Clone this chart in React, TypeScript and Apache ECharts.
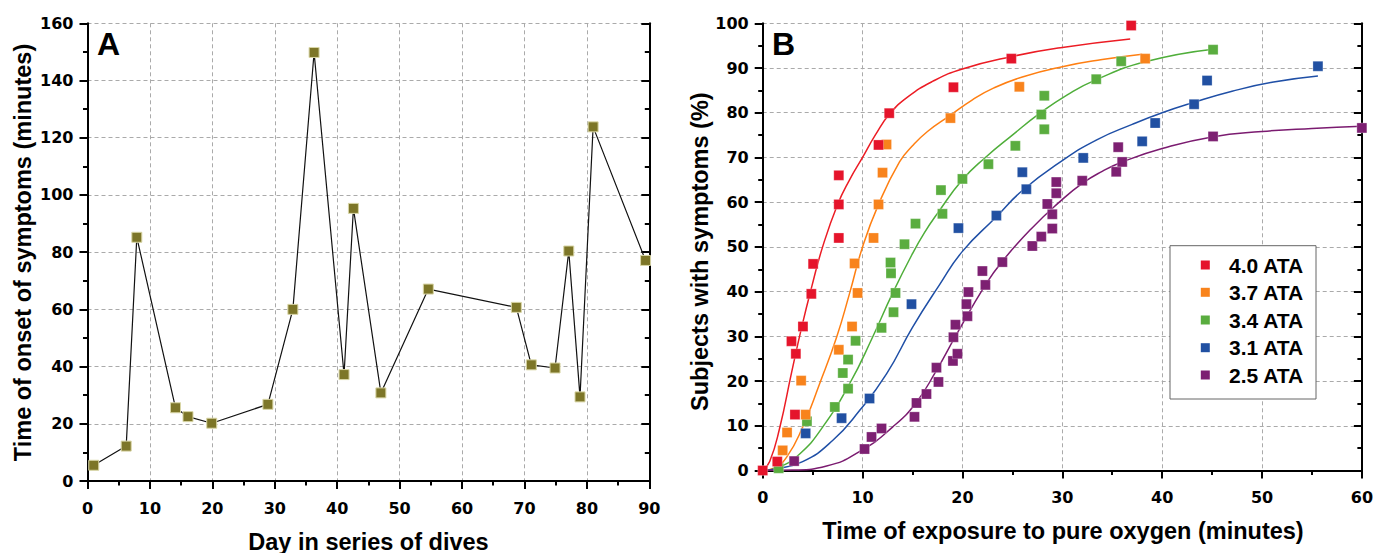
import React, { useEffect, useRef } from 'react';
import * as echarts from 'echarts';

// ---------- Panel A data ----------
const dayA = [1, 6.2, 7.9, 14.1, 16.1, 19.9, 28.9, 32.9, 36.3, 41.1, 42.6, 47.0, 54.6, 68.7, 71.1, 74.9, 77.1, 78.9, 81, 89.4];
const onsetA = [5.5, 12.2, 85.2, 25.6, 22.5, 20.2, 26.8, 60, 149.8, 37.2, 95.3, 30.8, 67.1, 60.7, 40.6, 39.5, 80.4, 29.4, 123.8, 77.1];

// ---------- Panel B data (points) ----------
const seriesNames = ['4.0 ATA', '3.7 ATA', '3.4 ATA', '3.1 ATA', '2.5 ATA'];
const colors = ['#e5142b', '#f8831c', '#5aad3f', '#2150a2', '#7d2072'];
const curveColors = ['#ec1c24', '#ff7f12', '#4fae3a', '#1f4fa6', '#7b1b70'];

const ata40X = [0, 1.46, 3.23, 2.88, 3.32, 4.03, 4.87, 5.05, 7.62, 7.62, 7.62, 11.6, 12.67, 19.1, 24.9, 36.9];
const ata40Y = [0, 2, 12.5, 28.9, 26.1, 32.2, 39.5, 46.2, 52, 59.5, 66, 72.8, 79.9, 85.7, 92.1, 99.5];

const ata37X = [2.0, 2.44, 4.3, 3.85, 7.62, 8.95, 9.5, 9.2, 11.1, 11.6, 12.0, 12.4, 18.8, 25.7, 38.3];
const ata37Y = [4.5, 8.5, 12.5, 20.1, 27, 32.2, 39.7, 46.3, 52, 59.5, 66.6, 72.9, 78.8, 85.8, 92.1];

const ata34X = [1.6, 4.43, 7.22, 8.02, 8.55, 8.55, 9.3, 11.9, 13.1, 13.3, 12.85, 12.8, 14.2, 15.3, 18, 17.85, 20, 22.6, 25.3, 27.9, 28.2, 28.2, 33.4, 35.9, 45.1];
const ata34Y = [0.5, 11, 14.2, 21.8, 18.3, 24.8, 29, 31.9, 35.4, 39.7, 44.1, 46.5, 50.6, 55.2, 57.4, 62.7, 65.2, 68.5, 72.6, 79.6, 76.3, 83.8, 87.5, 91.5, 94.1];

const ata31X = [4.3, 7.9, 10.7, 14.9, 19.6, 23.4, 26.4, 26.0, 32.1, 38.0, 39.3, 43.2, 44.5, 55.6];
const ata31Y = [8.3, 11.7, 16.1, 37.2, 54.2, 57, 62.9, 66.7, 69.9, 73.6, 77.7, 81.9, 87.2, 90.4];

const ata25X = [3.15, 10.2, 10.9, 11.9, 15.2, 15.4, 16.4, 17.6, 17.4, 19.05, 19.5, 19.1, 19.3, 20.5, 20.4, 20.6, 22.3, 22.0, 24.0, 27.0, 27.9, 29.0, 29.0, 28.5, 29.4, 29.4, 32.0, 35.4, 36.0, 35.6, 45.1, 60];
const ata25Y = [2.1, 4.8, 7.5, 9.4, 12, 15.1, 17.1, 19.8, 23, 24.5, 26.1, 29.8, 32.6, 34.5, 37.2, 39.9, 41.5, 44.6, 46.6, 50.2, 52.3, 54.1, 57.3, 59.6, 62, 64.5, 64.8, 66.8, 69, 72.3, 74.7, 76.6];

// ---------- Panel B fitted curves ----------
const fit40X = [0, 0.7, 1.7, 2.9, 3.9, 4.9, 6, 7.5, 8.7, 10, 11.3, 12.7, 14.5, 17, 20, 25, 30, 36.8];
const fit40Y = [0, 2, 9.5, 22, 32, 41, 50, 59.5, 65, 70, 75.1, 79.7, 83.5, 87, 89.8, 92.6, 94.6, 96.5];

const fit37X = [0, 1.1, 2.4, 4, 5.7, 7.4, 8.7, 10, 11.6, 13.7, 15, 16.5, 18.7, 21, 23, 26, 30, 34, 38];
const fit37Y = [0, 0.5, 3, 9.7, 19.4, 29.8, 39.6, 50, 59.5, 69, 72.6, 75.8, 79.3, 82.9, 85.4, 88, 90.3, 91.9, 93.1];

const fit34X = [0, 1.6, 3.7, 6, 8.7, 11, 13, 15, 16.2, 17.5, 20, 22.3, 25, 27.7, 30.5, 33.3, 38.3, 45.1];
const fit34Y = [0, 0.7, 3.7, 9.7, 19.4, 29.8, 39.6, 48.5, 53.2, 57.5, 65, 70, 75, 79.8, 84, 87.3, 91.4, 94.2];

const fit31X = [0, 1.1, 4, 7, 9.7, 12.4, 15, 17.7, 20, 23.3, 26, 30, 33.5, 37, 40, 43, 47, 51, 55.6];
const fit31Y = [0, 0.3, 2, 6.7, 13.4, 21.6, 32, 41.5, 49, 56.5, 62.6, 69.3, 74, 77.4, 80, 82.2, 84.8, 86.8, 88.2];

const fit25X = [0, 3, 6.4, 9.9, 13, 15.3, 17.3, 19.3, 22.3, 24, 27, 29.7, 32, 34, 36, 40, 45, 50, 55, 60];
const fit25Y = [0, 0.1, 1, 4.5, 9.7, 15, 22, 30, 41.5, 46.8, 54.3, 60, 64.2, 66.9, 69, 72, 74.6, 75.8, 76.5, 77];

const pointX = [ata40X, ata37X, ata34X, ata31X, ata25X];
const pointY = [ata40Y, ata37Y, ata34Y, ata31Y, ata25Y];
const fitX = [fit40X, fit37X, fit34X, fit31X, fit25X];
const fitY = [fit40Y, fit37Y, fit34Y, fit31Y, fit25Y];

const zip = (xs: number[], ys: number[]) => xs.map((x, i) => [x, ys[i]]);

const tickFont = { fontFamily: 'DejaVu Sans', fontWeight: 'bold' as const, fontSize: 16, color: '#000' };
const titleFont = 'bold 23.5px "Liberation Sans", Arial, sans-serif';
const black = { color: '#000', width: 2 };

function xAxis(gridIndex: number, max: number) {
  return {
    type: 'value', gridIndex, min: 0, max, interval: 10,
    axisLine: { show: true, onZero: false, lineStyle: black },
    axisTick: { show: true, length: 8, lineStyle: black },
    minorTick: { show: true, splitNumber: 2, length: 4.5, lineStyle: black },
    splitLine: { show: true, lineStyle: { color: '#aaaaaa', width: 1, type: [4, 3] } },
    minorSplitLine: { show: false },
    axisLabel: { ...tickFont, margin: 19 },
  };
}
function yAxisLeft(gridIndex: number, max: number, interval: number) {
  return {
    type: 'value', gridIndex, min: 0, max, interval,
    position: 'left',
    axisLine: { show: true, onZero: false, lineStyle: black },
    axisTick: { show: true, length: 8, lineStyle: black },
    minorTick: { show: true, splitNumber: 2, length: 4.5, lineStyle: black },
    splitLine: { show: true, lineStyle: { color: '#aaaaaa', width: 1, type: [4, 3] } },
    axisLabel: { ...tickFont, margin: 14 },
  };
}
function yAxisRight(gridIndex: number, max: number, interval: number) {
  return {
    type: 'value', gridIndex, min: 0, max, interval,
    position: 'right',
    axisLine: { show: true, onZero: false, lineStyle: black },
    axisTick: { show: true, inside: true, length: 8, lineStyle: black },
    minorTick: { show: true, splitNumber: 2, length: 4.5, lineStyle: black },
    splitLine: { show: false },
    axisLabel: { show: false },
  };
}

// Legend layout (drawn as graphic)
const legendRowY = [265, 292.3, 320, 347.7, 375];
const legendItems = seriesNames.flatMap((n, i) => [
  { type: 'rect', shape: { x: 1200.8, y: legendRowY[i] - 4.5, width: 9, height: 9 }, style: { fill: colors[i] }, z: 20 },
  { type: 'text', x: 1229, y: legendRowY[i], style: { text: n, font: 'bold 21px "Liberation Sans", Arial, sans-serif', fill: '#000', textVerticalAlign: 'middle' }, z: 20 },
]);

const option: any = {
  animation: false,
  backgroundColor: '#ffffff',
  grid: [
    { left: 87.5, top: 23.3, width: 561.8, height: 457.7 },
    { left: 762.7, top: 23.3, width: 601.6, height: 447.2 },
  ],
  xAxis: [xAxis(0, 90), xAxis(1, 60)],
  yAxis: [yAxisLeft(0, 160, 20), yAxisRight(0, 160, 20), yAxisLeft(1, 100, 10), yAxisRight(1, 100, 10)],
  graphic: [
    { type: 'text', x: 97, y: 44, style: { text: 'A', font: 'bold 32px "Liberation Sans", Arial, sans-serif', fill: '#000', textVerticalAlign: 'middle' } },
    { type: 'text', x: 772, y: 44, style: { text: 'B', font: 'bold 32px "Liberation Sans", Arial, sans-serif', fill: '#000', textVerticalAlign: 'middle' } },
    { type: 'text', x: 368.5, y: 541.5, style: { text: 'Day in series of dives', font: titleFont, fill: '#000', textAlign: 'center', textVerticalAlign: 'middle' } },
    { type: 'text', x: 1063, y: 531, style: { text: 'Time of exposure to pure oxygen (minutes)', font: titleFont, fill: '#000', textAlign: 'center', textVerticalAlign: 'middle' } },
    { type: 'text', x: 23, y: 252.5, rotation: Math.PI / 2, style: { text: 'Time of onset of symptoms (minutes)', font: titleFont, fill: '#000', textAlign: 'center', textVerticalAlign: 'middle' } },
    { type: 'text', x: 700, y: 251.7, rotation: Math.PI / 2, style: { text: 'Subjects with symptoms (%)', font: titleFont, fill: '#000', textAlign: 'center', textVerticalAlign: 'middle' } },
    { type: 'rect', shape: { x: 1170, y: 245.7, width: 146, height: 153.3 }, style: { fill: '#ffffff', stroke: '#666666', lineWidth: 1 }, z: 19 },
    ...legendItems,
  ],
  series: [
    {
      name: 'Onset',
      type: 'line',
      xAxisIndex: 0, yAxisIndex: 0,
      data: zip(dayA, onsetA),
      symbol: 'rect', symbolSize: 10,
      lineStyle: { color: '#111', width: 1.2 },
      itemStyle: { color: '#7d7628', borderColor: '#d9d6a6', borderWidth: 1 },
      z: 3,
    },
    ...seriesNames.map((n, i) => ({
      name: n + ' fit',
      type: 'line',
      xAxisIndex: 1, yAxisIndex: 2,
      data: zip(fitX[i], fitY[i]),
      showSymbol: false,
      smooth: 0.5,
      lineStyle: { color: curveColors[i], width: 1.5 },
      itemStyle: { color: curveColors[i] },
      z: 2,
    })),
    ...seriesNames.map((n, i) => ({
      name: n,
      type: 'scatter',
      xAxisIndex: 1, yAxisIndex: 2,
      data: zip(pointX[i], pointY[i]),
      symbol: 'rect', symbolSize: 10,
      itemStyle: { color: colors[i], opacity: 1, borderColor: 'rgba(255,255,255,0.35)', borderWidth: 0.8 },
      z: 4 + (4 - i) * 0.01,
    })),
  ],
};

export default function App() {
  const ref = useRef<HTMLDivElement>(null);
  useEffect(() => {
    const chart = echarts.init(ref.current!, null, { renderer: 'svg' });
    chart.setOption(option);
    return () => chart.dispose();
  }, []);
  return (
    <div
      ref={ref}
      style={{ position: 'fixed', left: 0, top: 0, width: 1376, height: 553, background: '#fff' }}
    />
  );
}
